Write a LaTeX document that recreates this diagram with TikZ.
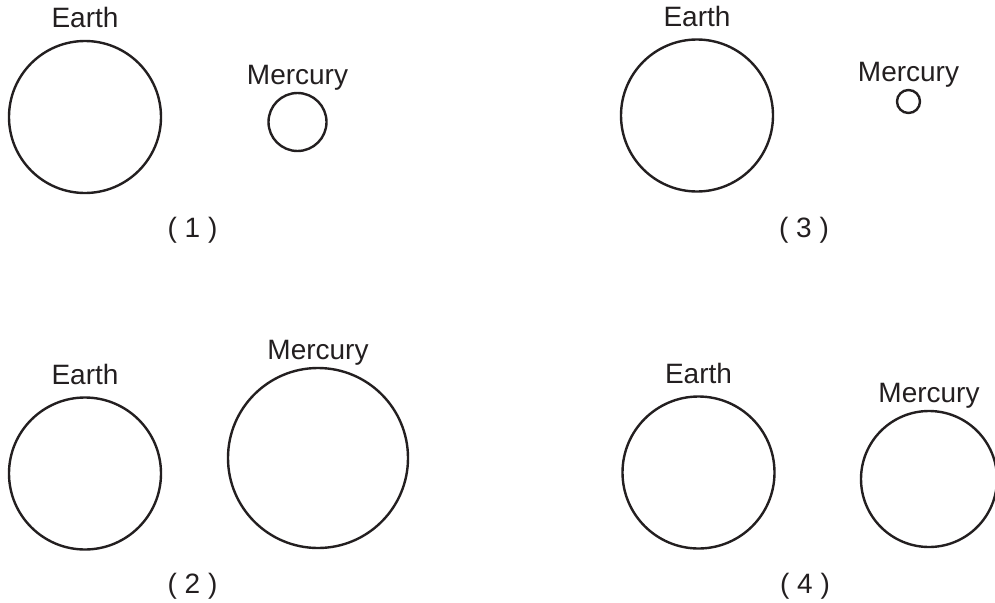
\documentclass[tikz,border=0pt]{standalone}
\usepackage{fontspec}
\setmainfont{Liberation Sans}
\definecolor{ink}{HTML}{231F20}
\tikzset{
  planet/.style={circle, draw=ink, line width=2.4pt, inner sep=0pt, minimum size=#1},
  lbl/.style={font=\fontsize{28pt}{34pt}\selectfont, text=ink, inner sep=0pt, anchor=base}
}
\begin{document}
\begin{tikzpicture}[x=1pt, y=-1pt]
		\useasboundingbox (0,0) rectangle (995,602);
		% panel / earth centre / mercury centre and size / tag position
		\foreach \tag/\ex/\ey/\mx/\my/\md/\tx/\ty in {
			1/85/117/297.5/122/58/192.5/237,
			2/85/473.5/318/458/180/192.5/593,
			3/697/115.5/908.5/101.5/23/804/237,
			4/698.5/472.5/929/479/136/805/593}{
				\node[planet=152pt] (E\tag) at (\ex, \ey) {};
				\node[planet=\md pt] (M\tag) at (\mx, \my) {};
				\node[lbl] (LE\tag) at ([yshift=12pt]E\tag.north) {Earth};
				\node[lbl] (LM\tag) at ([yshift=7pt]M\tag.north) {Mercury};
				\node[lbl] (T\tag) at (\tx, \ty) {( \tag\ )};
			}
	\end{tikzpicture}
\end{document}
